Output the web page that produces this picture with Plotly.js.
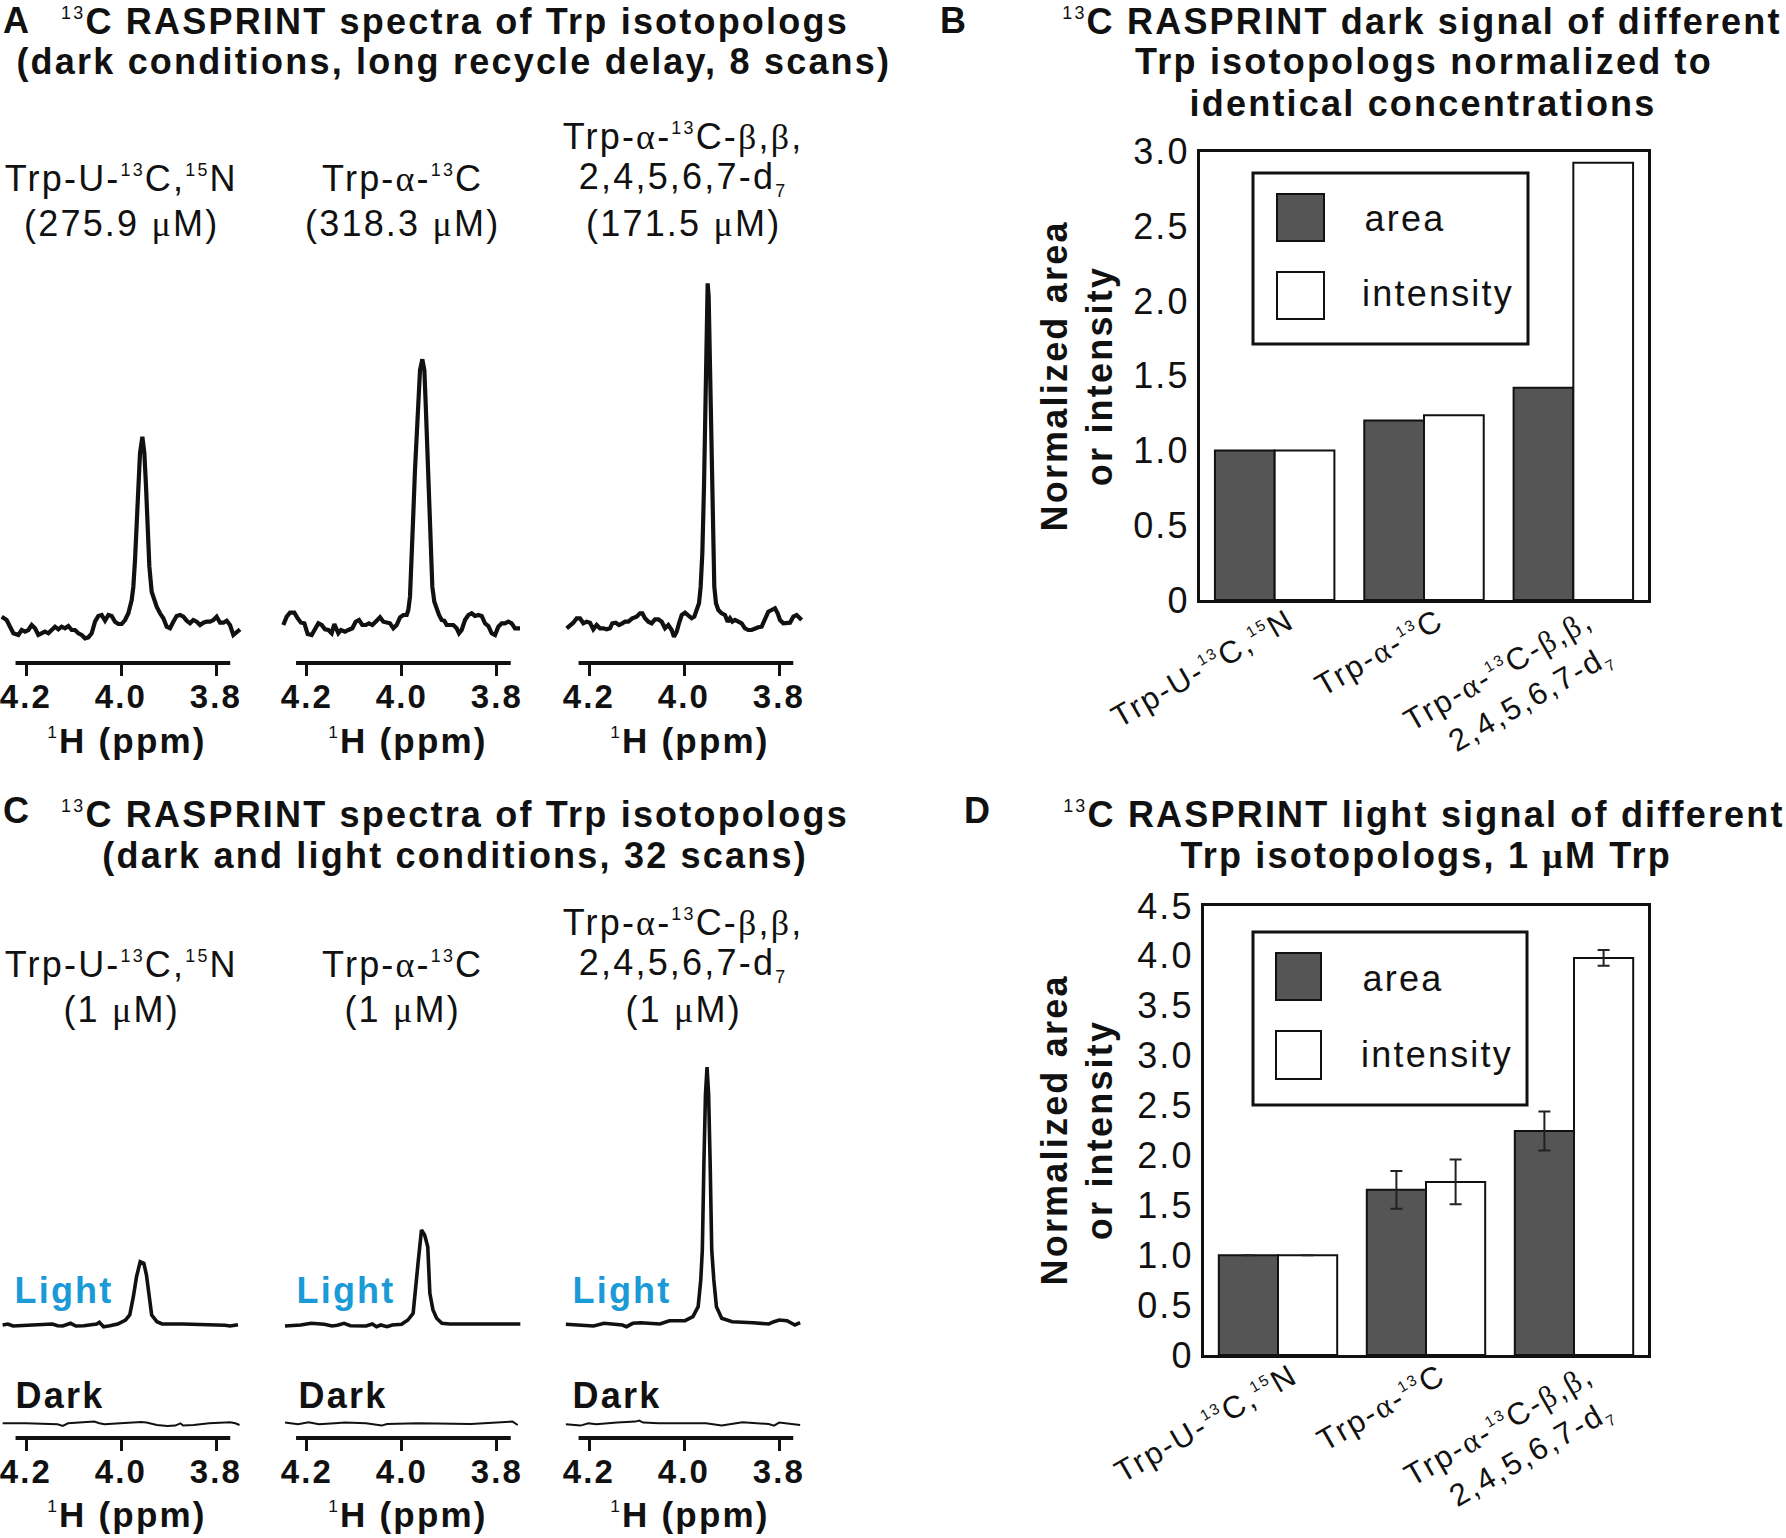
<!DOCTYPE html>
<html><head><meta charset="utf-8">
<script src="https://cdn.plot.ly/plotly-3.0.1.min.js"></script>
<style>
html,body{margin:0;padding:0;background:#fff;}
#chart{width:1786px;height:1538px;}
#chart svg text{letter-spacing:2.2px;}
</style></head><body><div id="chart"></div>
<script>
// ---------- DATA ----------
// Panel A spectra (ppm, intensity a.u.)
const specA1_ppm = [4.2512,4.2407,4.2336,4.2266,4.2161,4.2091,4.2021,4.1950,4.1880,4.1810,4.1740,4.1670,4.1600,4.1529,4.1459,4.1389,4.1319,4.1249,4.1179,4.1108,4.1038,4.0968,4.0898,4.0828,4.0758,4.0687,4.0617,4.0547,4.0477,4.0407,4.0336,4.0266,4.0196,4.0126,4.0056,3.9986,3.9915,3.9845,3.9775,3.9740,3.9705,3.9670,3.9635,3.9600,3.9550,3.9508,3.9473,3.9438,3.9403,3.9354,3.9305,3.9249,3.9179,3.9108,3.9038,3.8968,3.8898,3.8828,3.8758,3.8687,3.8617,3.8547,3.8477,3.8407,3.8336,3.8266,3.8196,3.8126,3.8056,3.7986,3.7915,3.7845,3.7775,3.7705,3.7635,3.7565,3.7494];
const specA1_int = [6.3,3.0,-3.7,-10.3,-12,-7,-8.7,-7,-2,-5.3,-12,-10.3,-8.7,-10.3,-7,-3.7,-6.3,-3.7,-5.3,-3,-7,-7,-10.3,-12,-15.3,-14.3,-10.3,1.3,7,8,2.3,8,7,1.3,-1,-1,3,9.7,23,36.3,63,96.3,139.7,169.7,186.3,169.7,136.3,89.7,56.3,31.3,23,16.3,9.7,4.7,-3.7,-5.3,1.3,7,8,6.3,2.3,-0.3,3,1.3,-2,0.3,1.3,1.3,3,6.3,0.3,0.3,2.3,-2,-12,-9.7,-6.3];
const specA2_ppm = [4.2488,4.2417,4.2347,4.2256,4.2186,4.2116,4.2045,4.1975,4.1891,4.1821,4.1751,4.1681,4.1610,4.1540,4.1470,4.1414,4.1365,4.1330,4.1274,4.1189,4.1119,4.1035,4.0965,4.0895,4.0825,4.0754,4.0684,4.0614,4.0544,4.0452,4.0382,4.0312,4.0242,4.0172,4.0102,4.0031,3.9961,3.9891,3.9856,3.9821,3.9786,3.9751,3.9716,3.9681,3.9646,3.9610,3.9561,3.9519,3.9491,3.9456,3.9421,3.9386,3.9351,3.9309,3.9260,3.9210,3.9154,3.9098,3.9049,3.8979,3.8909,3.8839,3.8789,3.8733,3.8663,3.8593,3.8523,3.8453,3.8382,3.8312,3.8242,3.8172,3.8102,3.8031,3.7961,3.7891,3.7821,3.7751,3.7681,3.7610,3.7505];
const specA2_int = [-2,6.3,10.3,10.3,4.7,0.3,-0.3,-11,-12,-5.3,-0.3,-2,-6.3,-7,-10.3,-1,-5.3,-10.3,-7,-8.7,-7,-5.3,1.3,3,-2,-2,-0.3,-2,1.3,5.7,1.3,0.3,-0.3,-5.3,-2,5.7,8,8,13,26.3,59.7,109.7,153,193,226.3,253,263.7,253,219.7,169.7,116.3,66.3,36.3,21.3,13,8,3,2.3,-2,-2,-2,-5.3,-10.3,-7,3,8,9.7,7,8,7,-0.3,-3,-10.3,-12,-3.7,-0.3,-0.3,1.3,-0.3,-5.3,-5.3];
const specA3_ppm = [4.2470,4.2400,4.2330,4.2260,4.2190,4.2119,4.2049,4.1979,4.1909,4.1839,4.1769,4.1698,4.1628,4.1558,4.1509,4.1439,4.1369,4.1298,4.1242,4.1172,4.1088,4.0997,4.0927,4.0877,4.0821,4.0751,4.0681,4.0611,4.0540,4.0470,4.0400,4.0330,4.0260,4.0211,4.0154,4.0105,4.0049,3.9979,3.9909,3.9839,3.9783,3.9733,3.9684,3.9649,3.9614,3.9579,3.9558,3.9537,3.9516,3.9502,3.9481,3.9460,3.9439,3.9418,3.9390,3.9362,3.9327,3.9277,3.9207,3.9137,3.9081,3.9032,3.8983,3.8927,3.8856,3.8786,3.8716,3.8646,3.8576,3.8505,3.8435,3.8365,3.8295,3.8225,3.8155,3.8084,3.8028,3.7979,3.7909,3.7839,3.7768,3.7698,3.7628,3.7523];
const specA3_int = [-5.3,-3,0.3,4.7,4.7,-0.3,1.3,0.3,-6.3,-2,-5.3,-5.3,-6.3,-5.3,-0.3,0.3,-2,-0.3,1.3,1.3,4.7,6.3,9.7,9.7,4.7,1.3,-0.3,3.7,3.7,1.3,-5.3,-2,-7,-13.7,-8.7,-0.3,8,10.3,8,4.7,6.3,13,19.7,36.3,69.7,136.3,203,269.7,326.3,339.7,326.3,269.7,203,136.3,69.7,36.3,19.7,13,9.7,8,1.3,4.7,1.3,3,1.3,-0.3,-5.3,-7,-7,-5.3,-4.3,-3.7,3,11.3,13,14.7,9.7,3,-0.3,-0.3,0.3,6.3,8,3];

// Panel C spectra: light
const specC1L_ppm = [4.2492,4.2382,4.2272,4.1886,4.1446,4.1336,4.1226,4.1061,4.0951,4.0785,4.0510,4.0455,4.0367,4.0235,4.0070,3.9904,3.9816,3.9740,3.9673,3.9596,3.9519,3.9464,3.9409,3.9354,3.9244,3.9134,3.8694,3.8143,3.7813,3.7703,3.7537];
const specC1L_int = [-1,0,-2,-1.3,0,-1.7,-2,0.7,-2,-1.7,0,1.7,-2.7,-1.7,0,4,9,27.3,47.3,62.3,60.7,49,27.3,9,2.3,0,0,-0.3,-1.3,-2,-0.7];
const specC2L_ppm = [4.2453,4.2122,4.1902,4.1627,4.1462,4.1352,4.1209,4.1077,4.0746,4.0614,4.0526,4.0438,4.0306,4.0196,3.9998,3.9865,3.9755,3.9700,3.9645,3.9579,3.9513,3.9447,3.9403,3.9337,3.9260,3.9150,3.8985,3.8544,3.7994,3.7609,3.7498];
const specC2L_int = [-2,-1,0.7,-0.3,-2,-1.3,0.7,-1.7,-2,0,-2.7,-1,-2.7,-1,-0.3,4,10.7,34,64,94,89,77.3,30.7,14,5.7,0.7,0,0,-0.3,-0.3,0];
const specC3L_ppm = [4.2487,4.2179,4.1904,4.1683,4.1463,4.1298,4.1210,4.1078,4.0913,4.0638,4.0506,4.0308,3.9977,3.9812,3.9702,3.9647,3.9614,3.9581,3.9548,3.9515,3.9482,3.9449,3.9416,3.9372,3.9317,3.9207,3.8986,3.8546,3.8216,3.8106,3.7996,3.7830,3.7720,3.7665,3.7555];
const specC3L_int = [-0.3,-1,-2,0.7,-0.3,-1,-2.7,0.7,1.3,0.7,0,3.3,3.3,7.3,17.3,44,74,160,230,257,230,160,74,44,17.3,5.7,2.3,1.3,0,2.3,4,3.3,0,-1,1.3];
// Panel C spectra: dark
const specC1D_ppm = [4.2492,4.1997,4.1336,4.1226,4.1116,4.0785,4.0565,4.0455,4.0345,4.0015,3.9574,3.9464,3.9244,3.9024,3.8859,3.8749,3.8694,3.8473,3.8143,3.7703,3.7593,3.7505];
const specC1D_int = [0,0,-1,-2.7,0,0.7,1.7,0,-1,0,1.3,0.7,-1.7,-2.7,-2.3,0,-2.3,-1.7,0,1,0,-1.7];
const specC2D_ppm = [4.2453,4.2177,4.1957,4.1737,4.1407,4.1187,4.0746,4.0416,4.0306,3.9645,3.8544,3.8214,3.7994,3.7663,3.7553];
const specC2D_int = [0.7,-1,1,-1,0,0.7,0,-2.3,-0.7,0,-0.7,0,1,1.7,-1.7];
const specC3D_ppm = [4.2487,4.2179,4.2014,4.1849,4.1409,4.1023,4.0946,4.0858,4.0528,3.9537,3.9207,3.8877,3.8767,3.8216,3.8106,3.7996,3.7555];
const specC3D_int = [-1,-2.3,0,-1,0.7,1.7,2.7,0.7,0,0,-2.3,0,1,-0.7,-2.3,0.7,-1.7];

// Sample labels
const sampleLine1 = ['', '', 'Trp-α-{13}C-β,β,'];
const sampleLine2 = ['Trp-U-{13}C,{15}N', 'Trp-α-{13}C', '2,4,5,6,7-d_7_'];
const concA = ['275.9', '318.3', '171.5'];
const concC = ['1', '1', '1'];
const ppmTicks = [4.2, 4.0, 3.8];
const ppmTickText = ['4.2', '4.0', '3.8'];

// Bar charts
const categories = ['Trp-U-13C,15N', 'Trp-a-13C', 'Trp-a-13C-d7'];
const categoryLabels = ['Trp-U-{13}C,{15}N', 'Trp-α-{13}C', 'Trp-α-{13}C-β,β,<br>2,4,5,6,7-d_7_'];
const darkArea = [1.0, 1.20, 1.42];
const darkIntensity = [1.0, 1.235, 2.925];
const lightArea = [1.0, 1.655, 2.245];
const lightAreaErr = [0, 0.19, 0.195];
const lightIntensity = [1.0, 1.735, 3.98];
const lightIntensityErr = [0, 0.225, 0.08];
const bTickVals = [0, 0.5, 1.0, 1.5, 2.0, 2.5, 3.0];
const bTickText = ['0', '0.5', '1.0', '1.5', '2.0', '2.5', '3.0'];
const dTickVals = [0, 0.5, 1.0, 1.5, 2.0, 2.5, 3.0, 3.5, 4.0, 4.5];
const dTickText = ['0', '0.5', '1.0', '1.5', '2.0', '2.5', '3.0', '3.5', '4.0', '4.5'];

// ---------- LAYOUT HELPERS ----------
const W = 1786, H = 1538;
const FONT = 'Liberation Sans, Arial, sans-serif';
const px = v => v / W;
const py = v => 1 - v / H;
const INK = '#111111';
const DARKBAR = '#555555';
const BLUE = '#1a9ad7';
const SMALL_PCT = 71; // extra shrink inside plotly's 70% sup/sub
// rich text: Greek in serif, small super/subscripts
function rich(s) {
  return s
    .replace(/([αβμ])/g, '<span style="font-family:Liberation Serif">$1</span>')
    .replace(/\{(\d+)\}/g, '<sup><span style="font-size:' + SMALL_PCT + '%;font-weight:normal">$1</span></sup>')
    .replace(/_(\d+)_/g, '<sub><span style="font-size:' + SMALL_PCT + '%">$1</span></sub>');
}

function ann(text, x, y, size, bold, extra) {
  return Object.assign({
    text: rich(text), x: px(x), y: py(y), xref: 'paper', yref: 'paper',
    xanchor: 'center', yanchor: 'middle', showarrow: false,
    font: {family: FONT, size: size, color: INK, weight: bold ? 'bold' : 'normal'}
  }, extra || {});
}

const data = [];
const layout = {
  width: W, height: H, margin: {l: 0, r: 0, t: 0, b: 0},
  paper_bgcolor: '#fff', plot_bgcolor: 'rgba(0,0,0,0)', showlegend: false,
  barmode: 'group', bargap: 0.2, bargroupgap: 0,
  annotations: [], shapes: []
};

// spectra geometry
const tick42 = [26, 306.5, 589];
const PPM_PX = 475;
const xRange = [4.254, 3.744];
function xDomain(i) {
  const left = tick42[i] - (xRange[0] - 4.2) * PPM_PX;
  return [px(left), px(left + (xRange[0] - xRange[1]) * PPM_PX)];
}
function specX(domain, anchor) {
  return {
    domain: domain, range: xRange, anchor: anchor,
    showline: false, showgrid: false, zeroline: false,
    ticks: 'outside', ticklen: 12, tickwidth: 3, tickcolor: INK,
    tickvals: ppmTicks, showticklabels: false, fixedrange: true
  };
}
function hiddenY(dom, rng, anchor) {
  return {domain: dom, range: rng, anchor: anchor, visible: false, fixedrange: true};
}
function line(x, y, xa, ya, w) {
  return {type: 'scatter', mode: 'lines', x: x, y: y, xaxis: xa, yaxis: ya,
          line: {color: INK, width: w}, hoverinfo: 'skip', showlegend: false};
}
function ppmLabels(xa, yPx) {
  ppmTicks.forEach((v, j) => {
    layout.annotations.push({text: ppmTickText[j], xref: xa, yref: 'paper', x: v, y: py(yPx),
      xanchor: 'center', yanchor: 'middle', showarrow: false,
      font: {family: FONT, size: 33, color: INK, weight: 'bold'}});
  });
}

// Panel A spectra
const A_AXIS = 663, A_BASE = 623, A_TOP = 270;
const specA = [[specA1_ppm, specA1_int], [specA2_ppm, specA2_int], [specA3_ppm, specA3_int]];
specA.forEach((s, i) => {
  const n = i + 1;
  layout['xaxis' + n] = specX(xDomain(i), 'y' + n);
  layout['yaxis' + n] = hiddenY([py(A_AXIS), py(A_TOP)], [-(A_AXIS - A_BASE), A_BASE - A_TOP], 'x' + n);
  data.push(line(s[0], s[1], 'x' + n, 'y' + n, 4.2));
  layout.shapes.push({type: 'line', xref: 'x' + n, yref: 'paper', x0: 4.222, x1: 3.770,
                      y0: py(A_AXIS), y1: py(A_AXIS), line: {color: INK, width: 4}});
  ppmLabels('x' + n, 696);
});

// Panel C spectra
const C_AXIS = 1438, C_DBASE = 1423.3, C_DTOP = 1385;
const C_LBOT = 1350, C_LBASE = 1324, C_LTOP = 1040;
const specCL = [[specC1L_ppm, specC1L_int], [specC2L_ppm, specC2L_int], [specC3L_ppm, specC3L_int]];
const specCD = [[specC1D_ppm, specC1D_int], [specC2D_ppm, specC2D_int], [specC3D_ppm, specC3D_int]];
for (let i = 0; i < 3; i++) {
  const xn = 4 + i, yl = 4 + i, yd = 7 + i;
  layout['xaxis' + xn] = specX(xDomain(i), 'y' + yd);
  layout['yaxis' + yl] = hiddenY([py(C_LBOT), py(C_LTOP)], [-(C_LBOT - C_LBASE), C_LBASE - C_LTOP], 'x' + xn);
  layout['yaxis' + yd] = hiddenY([py(C_AXIS), py(C_DTOP)], [-(C_AXIS - C_DBASE), C_DBASE - C_DTOP], 'x' + xn);
  data.push(line(specCL[i][0], specCL[i][1], 'x' + xn, 'y' + yl, 3.6));
  data.push(line(specCD[i][0], specCD[i][1], 'x' + xn, 'y' + yd, 2));
  layout.shapes.push({type: 'line', xref: 'x' + xn, yref: 'paper', x0: 4.222, x1: 3.770,
                      y0: py(C_AXIS), y1: py(C_AXIS), line: {color: INK, width: 4}});
  ppmLabels('x' + xn, 1471);
}

// Bar charts
function barX(dom, anchor) {
  return {domain: dom, anchor: anchor, type: 'category', range: [-0.5, 2.5],
          showline: true, mirror: true, linewidth: 3, linecolor: INK, ticks: '',
          showgrid: false, zeroline: false, tickangle: -30,
          ticklabelshift: 14, ticklabelstandoff: -12,
          tickvals: categories, ticktext: categoryLabels.map(rich),
          tickfont: {family: FONT, size: 31, color: INK}, fixedrange: true};
}
function barY(dom, anchor, rng, tv, tt) {
  return {domain: dom, anchor: anchor, range: rng, showline: true, mirror: true,
          linewidth: 3, linecolor: INK, ticks: '', showgrid: false, zeroline: false,
          tickvals: tv, ticktext: tt, ticklabelstandoff: 0,
          tickfont: {family: FONT, size: 36, color: INK}, fixedrange: true};
}
layout.xaxis7 = barX([px(1200), px(1648)], 'y10');
layout.yaxis10 = barY([py(600), py(151.5)], 'x7', [0, 3], bTickVals, bTickText);
layout.xaxis8 = barX([px(1204), px(1648)], 'y11');
layout.yaxis11 = barY([py(1355), py(906)], 'x8', [0, 4.5], dTickVals, dTickText);

function bar(y, color, xa, ya, err) {
  const t = {type: 'bar', x: categories, y: y, xaxis: xa, yaxis: ya,
             marker: {color: color, line: {color: INK, width: 2}}, hoverinfo: 'skip'};
  if (err) t.error_y = {type: 'data', array: err, visible: true, color: '#222', thickness: 2, width: 6};
  return t;
}
data.push(bar(darkArea, DARKBAR, 'x7', 'y10'));
data.push(bar(darkIntensity, '#ffffff', 'x7', 'y10'));
data.push(bar(lightArea, DARKBAR, 'x8', 'y11', lightAreaErr));
data.push(bar(lightIntensity, '#ffffff', 'x8', 'y11', lightIntensityErr));

// Legends (drawn boxes)
function legend(box, sw1, sw2, t1, t2) {
  layout.shapes.push({type: 'rect', xref: 'paper', yref: 'paper', x0: px(box[0]), x1: px(box[1]),
                      y0: py(box[2]), y1: py(box[3]), line: {color: INK, width: 3}, fillcolor: '#fff'});
  layout.shapes.push({type: 'rect', xref: 'paper', yref: 'paper', x0: px(sw1[0]), x1: px(sw1[1]),
                      y0: py(sw1[2]), y1: py(sw1[3]), line: {color: INK, width: 2}, fillcolor: DARKBAR});
  layout.shapes.push({type: 'rect', xref: 'paper', yref: 'paper', x0: px(sw2[0]), x1: px(sw2[1]),
                      y0: py(sw2[2]), y1: py(sw2[3]), line: {color: INK, width: 2}, fillcolor: '#fff'});
  layout.annotations.push(ann('area', t1[0], t1[1], 36, false));
  layout.annotations.push(ann('intensity', t2[0], t2[1], 36, false));
}
legend([1253, 1528, 173, 344], [1277, 1324, 194, 241], [1277, 1324, 272, 319], [1405, 219], [1438, 294]);
legend([1253, 1527, 932, 1105], [1276, 1321, 953, 1000], [1276, 1321, 1031, 1079], [1403, 978], [1437, 1054]);

// ---------- TEXT ----------
const A = layout.annotations;
A.push(ann('A', 17, 20, 36, true));
A.push(ann('{13}C RASPRINT spectra of Trp isotopologs', 455, 22, 36, true));
A.push(ann('(dark conditions, long recycle delay, 8 scans)', 454, 62, 36, true));
A.push(ann('C', 17, 810, 36, true));
A.push(ann('{13}C RASPRINT spectra of Trp isotopologs', 455, 814, 36, true));
A.push(ann('(dark and light conditions, 32 scans)', 455, 855, 36, true));
A.push(ann('B', 954, 20, 36, true));
A.push(ann('{13}C RASPRINT dark signal of different', 1422, 22, 36, true));
A.push(ann('Trp isotopologs normalized to', 1424, 62, 36, true));
A.push(ann('identical concentrations', 1423, 103, 36, true));
A.push(ann('D', 978, 810, 36, true));
A.push(ann('{13}C RASPRINT light signal of different', 1424, 814, 36, true));
A.push(ann('Trp isotopologs, 1 μM Trp', 1426, 855, 36, true));

const colX = [121, 402, 683];
for (let i = 0; i < 3; i++) {
  if (sampleLine1[i]) {
    A.push(ann(sampleLine1[i], colX[i], 137, 36, false));
    A.push(ann(sampleLine1[i], colX[i], 922, 36, false));
  }
  A.push(ann(sampleLine2[i], colX[i], 179, 36, false));
  A.push(ann('(' + concA[i] + ' μM)', colX[i], 224, 36, false));
  A.push(ann(sampleLine2[i], colX[i], 965, 36, false));
  A.push(ann('(' + concC[i] + ' μM)', colX[i], 1010, 36, false));
  const axisCenter = tick42[i] + 0.2 * PPM_PX + 6;
  A.push(ann('{1}H (ppm)', axisCenter, 740, 35, true));
  A.push(ann('{1}H (ppm)', axisCenter, 1514, 35, true));
}
const lightX = [64, 346, 622];
const darkX = [60, 343, 617];
for (let i = 0; i < 3; i++) {
  A.push(ann('Light', lightX[i], 1290, 36, true, {font: {family: FONT, size: 36, color: BLUE, weight: 'bold'}}));
  A.push(ann('Dark', darkX[i], 1395, 36, true));
}
// bar y-axis titles
A.push(ann('Normalized area', 1054, 376, 36, true, {textangle: -90}));
A.push(ann('or intensity', 1099, 376, 36, true, {textangle: -90}));
A.push(ann('Normalized area', 1054, 1130, 36, true, {textangle: -90}));
A.push(ann('or intensity', 1099, 1130, 36, true, {textangle: -90}));

Plotly.newPlot('chart', data, layout, {displayModeBar: false, staticPlot: true});
</script></body></html>
